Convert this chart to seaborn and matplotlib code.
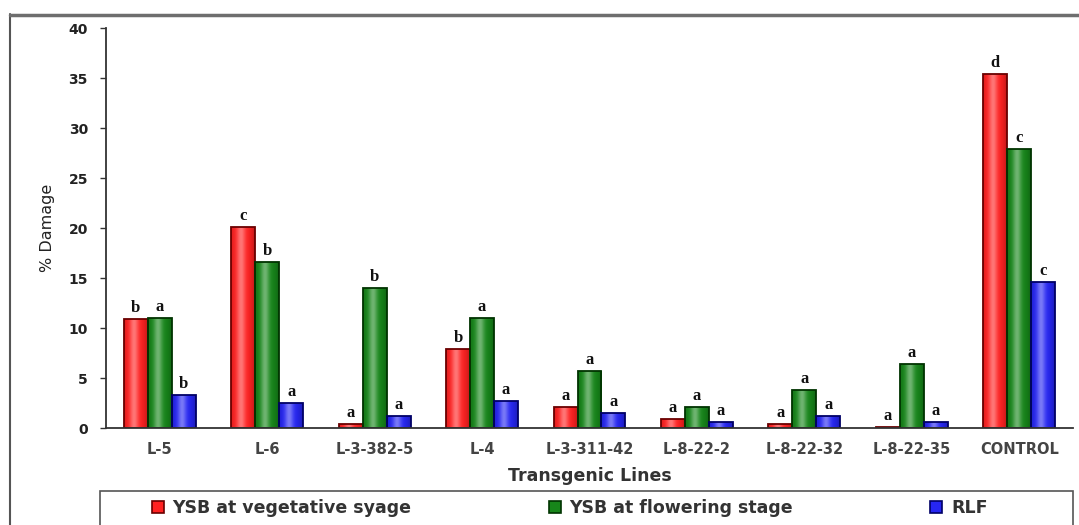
import numpy as np
import pandas as pd
import matplotlib
matplotlib.use("Agg")
import matplotlib.pyplot as plt
from matplotlib.lines import Line2D
from matplotlib.patches import Rectangle
from matplotlib.colors import to_rgb
import seaborn as sns

# Transgenic lines and per-line damage (%)
lines = ["L-5", "L-6", "L-3-382-5", "L-4", "L-3-311-42",
         "L-8-22-2", "L-8-22-32", "L-8-22-35", "CONTROL"]
series = ["YSB at vegetative syage", "YSB at flowering stage", "RLF"]
ysb_veg = [10.9, 20.1, 0.4, 7.9, 2.1, 0.9, 0.4, 0.1, 35.4]
ysb_flower = [11.0, 16.6, 14.0, 11.0, 5.7, 2.1, 3.8, 6.4, 27.9]
rlf = [3.3, 2.5, 1.2, 2.7, 1.5, 0.6, 1.2, 0.6, 14.6]

# Significance letters above each bar
letters_veg = ["b", "c", "a", "b", "a", "a", "a", "a", "d"]
letters_flower = ["a", "b", "b", "a", "a", "a", "a", "a", "c"]
letters_rlf = ["b", "a", "a", "a", "a", "a", "a", "a", "c"]

df = pd.DataFrame({
    "line": lines * 3,
    "series": [series[0]] * 9 + [series[1]] * 9 + [series[2]] * 9,
    "damage": ysb_veg + ysb_flower + rlf,
})

fill_colors = ["#FF2222", "#17861A", "#2626F2"]
edge_colors = ["#6A0000", "#003300", "#000066"]

sns.set_theme(style="white")
plt.rcParams["font.family"] = ["DejaVu Sans"]

W, H = 1079, 525
fig = plt.figure(figsize=(W / 100, H / 100), dpi=100)
ax = fig.add_axes([106 / W, 1 - 428 / H, (1073 - 106) / W, (428 - 28) / H])

sns.barplot(data=df, x="line", y="damage", hue="series", order=lines,
            hue_order=series, palette=fill_colors, width=0.67, gap=0,
            dodge=True, ax=ax, legend=False, saturation=1)


def cylinder_strip(color, n=64):
    """Horizontal shading profile: light stripe left of centre, darker rims."""
    base = np.array(to_rgb(color))
    t = np.linspace(0, 1, n)
    light = 0.38 * np.exp(-((t - 0.42) / 0.18) ** 2)
    dark = 0.25 * (np.abs(t - 0.45) / 0.55) ** 3
    rgb = base[None, :] * (1 - light[:, None]) + light[:, None]
    rgb = rgb * (1 - dark[:, None])
    return np.clip(rgb, 0, 1)[None, :, :]


all_letters = [letters_veg, letters_flower, letters_rlf]
for k, cont in enumerate(ax.containers):
    strip = cylinder_strip(fill_colors[k])
    for bar, lab in zip(cont, all_letters[k]):
        x0, w, h = bar.get_x(), bar.get_width(), bar.get_height()
        img = ax.imshow(strip, extent=(x0, x0 + w, 0, h), aspect="auto",
                        interpolation="bilinear", zorder=2.4)
        img.set_clip_path(bar)
        bar.set_facecolor("none")
        bar.set_edgecolor(edge_colors[k])
        bar.set_linewidth(1.3)
        bar.set_zorder(3)
        ax.text(x0 + w / 2, h + 0.3, lab, ha="center", va="bottom",
                family="Liberation Serif", fontweight="bold", fontsize=12,
                color="#111111")

ax.set_xlim(-0.5, len(lines) - 0.5)
ax.set_ylim(0, 40)
ax.set_yticks(np.arange(0, 41, 5))
ax.set_yticklabels([str(v) for v in range(0, 41, 5)],
                   fontsize=10, fontweight="bold", color="#222222")
ax.set_xticks(range(len(lines)))
ax.set_xticklabels(lines, fontsize=10.5, fontweight="bold", color="#444444")
ax.set_xticks(np.arange(-0.5, len(lines), 1.0), minor=True)
ax.tick_params(axis="x", which="major", length=0, pad=10)
ax.tick_params(axis="x", which="minor", length=4, direction="out",
               color="#333333", width=1)
ax.tick_params(axis="y", which="major", length=4, direction="out",
               color="#333333", width=1, pad=9, left=True)

for side in ["top", "right"]:
    ax.spines[side].set_visible(False)
for side in ["left", "bottom"]:
    ax.spines[side].set_color("#333333")
    ax.spines[side].set_linewidth(1.3)
    ax.spines[side].set_zorder(4)

ax.set_xlabel("Transgenic Lines", fontsize=12.5, fontweight="semibold",
              color="#333333", labelpad=7)
ax.set_ylabel("% Damage", fontsize=11.5, color="#222222", labelpad=10)

# Outer frame of the panel
fig.add_artist(Line2D([10 / W, 10 / W], [0, 1 - 14 / H],
                      color="#555555", lw=1.5, transform=fig.transFigure))
fig.add_artist(Line2D([10 / W, 1], [1 - 15 / H, 1 - 15 / H],
                      color="#6E6E6E", lw=2.5, transform=fig.transFigure))

# Legend box along the bottom edge
fig.add_artist(Rectangle((100 / W, -0.05), (1073 - 100) / W, 0.05 + (H - 491) / H,
                         transform=fig.transFigure, fill=False,
                         edgecolor="#555555", lw=1.2))
handles = [Rectangle((0, 0), 1, 1, facecolor=fill_colors[i],
                     edgecolor=edge_colors[i], lw=1.2) for i in range(3)]
leg = fig.legend(handles, series, loc="center left",
                 bbox_to_anchor=(143 / W, 1 - 508 / H), ncol=3, frameon=False,
                 prop={"size": 12.5, "weight": "bold"},
                 handlelength=0.7, handleheight=0.7,
                 handletextpad=0.5, columnspacing=7.9, borderpad=0)
for t in leg.get_texts():
    t.set_color("#333333")

fig.savefig("out.png", dpi=100)
